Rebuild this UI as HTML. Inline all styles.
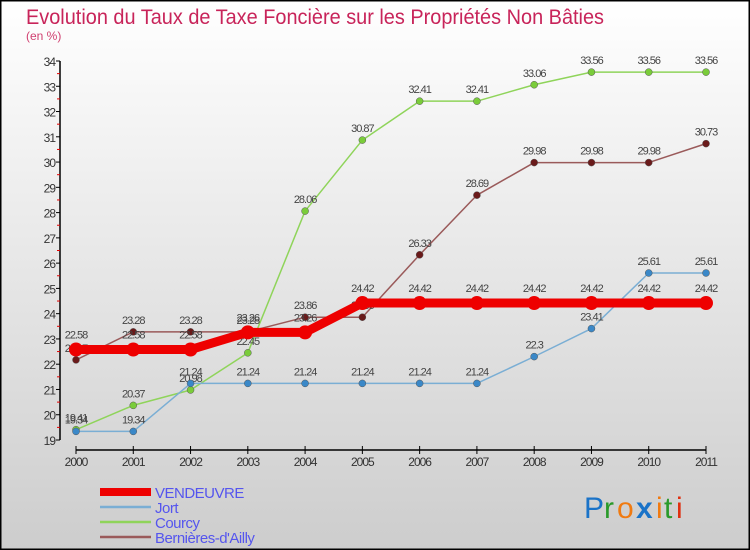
<!DOCTYPE html>
<html><head><meta charset="utf-8">
<style>
html,body{margin:0;padding:0;}
body{width:750px;height:550px;overflow:hidden;font-family:"Liberation Sans",sans-serif;}
svg{display:block;}
</style></head>
<body>
<svg id="chart" width="750" height="550" xmlns="http://www.w3.org/2000/svg">
<defs>
<linearGradient id="bg" x1="0" y1="0" x2="0" y2="1">
<stop offset="0" stop-color="#ffffff"/><stop offset="1" stop-color="#cdcdcd"/>
</linearGradient>
</defs>
<rect x="0.5" y="0.5" width="749" height="549" fill="url(#bg)" stroke="#000" stroke-width="2"/>
<text x="26" y="24" font-size="21" fill="#c8245a" textLength="578" lengthAdjust="spacingAndGlyphs">Evolution du Taux de Taxe Foncière sur les Propriétés Non Bâties</text>
<text x="26" y="40" font-size="12" fill="#d04070">(en %)</text>
<g id="axes"></g>
<g id="series"></g>
<g id="legend"></g>
<g font-size="30" font-family="'Liberation Sans',sans-serif">
<text x="584" y="518" fill="#1a73c8">P</text><text x="604" y="518" fill="#2a9a2a">r</text><text x="617" y="518" fill="#f07a10">o</text><text x="636" y="518" fill="#1a73c8" font-weight="bold">x</text><text x="656" y="518" fill="#f07a10">i</text><text x="664" y="518" fill="#2a9a2a">t</text><text x="676" y="518" fill="#e03010">i</text>
</g>
</svg>
<script>
const years=[2000,2001,2002,2003,2004,2005,2006,2007,2008,2009,2010,2011];
const vendeuvre=[22.58,22.58,22.58,23.26,23.26,24.42,24.42,24.42,24.42,24.42,24.42,24.42];
const jort=[19.34,19.34,21.24,21.24,21.24,21.24,21.24,21.24,22.3,23.41,25.61,25.61];
const courcy=[19.41,20.37,20.98,22.45,28.06,30.87,32.41,32.41,33.06,33.56,33.56,33.56];
const bernieres=[22.17,23.28,23.28,23.28,23.86,23.86,26.33,28.69,29.98,29.98,29.98,30.73];
const yTicks=[19,20,21,22,23,24,25,26,27,28,29,30,31,32,33,34];
const NS="http://www.w3.org/2000/svg";
const x0=76,x1=706,yMin=19,yMax=34,yb=440,yt=61;
function xs(i){return x0+(x1-x0)*i/(years.length-1);}
function ys(v){return yb-(v-yMin)*(yb-yt)/(yMax-yMin);}
function mk(tag,attrs,parent){const e=document.createElementNS(NS,tag);for(const k in attrs)e.setAttribute(k,attrs[k]);parent.appendChild(e);return e;}
const axes=document.getElementById('axes');
let l=mk('line',{x1:60,y1:yt,x2:60,y2:yb,stroke:'#000','stroke-width':1.5},axes);


yTicks.forEach(t=>{
 const y=ys(t);
 const tk=mk('line',{x1:56,y1:y,x2:60,y2:y,stroke:'#000'},axes);
 
 
 if(t<yMax){const m=mk('line',{x1:57,y1:ys(t+0.5),x2:60,y2:ys(t+0.5),stroke:'#e00000'},axes);
 
 }
 const tx=mk('text',{x:55,y:y+5,'text-anchor':'end','font-size':12,fill:'#333','letter-spacing':'-1'},axes);
 tx.textContent=t;
 
 
});
l=mk('line',{x1:x0,y1:450,x2:x1,y2:450,stroke:'#000','stroke-width':1.5},axes);


years.forEach((yr,i)=>{
 const tk=mk('line',{x1:xs(i),y1:446,x2:xs(i),y2:454,stroke:'#000'},axes);
 
 
 const tx=mk('text',{x:xs(i),y:466,'text-anchor':'middle','font-size':12,fill:'#333','letter-spacing':'-1'},axes);
 tx.textContent=yr;
 
 
});
const series=[
 {name:'courcy',data:courcy,color:'#8fd45a',dot:'#7acc3a',w:1.5,r:3.5},
 {name:'bernieres',data:bernieres,color:'#9a5a5a',dot:'#6a1a1a',w:1.5,r:3.5},
 {name:'jort',data:jort,color:'#7aaed4',dot:'#3a88c8',w:1.5,r:3.5},
 {name:'vendeuvre',data:vendeuvre,color:'#ee0000',dot:'#ee0000',w:9,r:7}
];
const sg=document.getElementById('series');
series.forEach(s=>{
 const g=mk('g',{},sg);
 
 
 const pl=mk('polyline',{points:s.data.map((v,i)=>xs(i)+','+ys(v)).join(' '),fill:'none',stroke:s.color,'stroke-width':s.w,'stroke-linejoin':'round'},g);
 
 
 s.data.forEach((v,i)=>{
  const c=mk('circle',{cx:xs(i),cy:ys(v),r:s.r,fill:s.dot,stroke:s.name==='vendeuvre'?'none':'#555','stroke-width':0.5},g);
  
  
  const t=mk('text',{x:xs(i),y:ys(v)-(s.name==='vendeuvre'?11:8),'text-anchor':'middle','font-size':11,fill:'#444','letter-spacing':'-1'},g);
  t.textContent=v;
  
  
 });
});
const lg=document.getElementById('legend');
const leg=[['VENDEUVRE','#ee0000',8],['Jort','#7aaed4',2.5],['Courcy','#8fd45a',2.5],['Bernières-d\'Ailly','#9a5a5a',2.5]];
leg.forEach((e,i)=>{
 const y=492+i*15;
 const ln=mk('line',{x1:100,y1:y,x2:151,y2:y,stroke:e[1],'stroke-width':e[2]},lg);
 
 
 const t=mk('text',{x:155,y:y+6,'font-size':15,fill:'#5555ee','letter-spacing':'-0.5'},lg);
 t.textContent=e[0];
 
 
});
</script>
</body></html>
